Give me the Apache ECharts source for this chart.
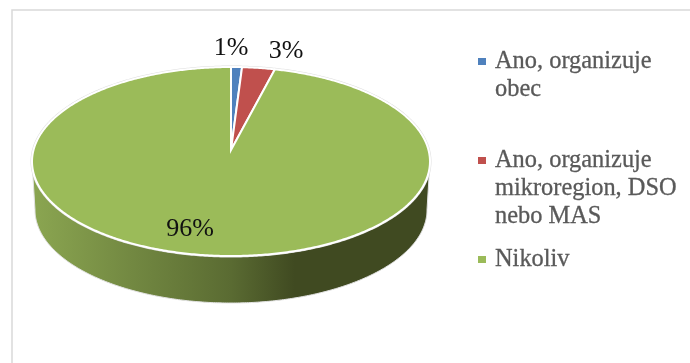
<!DOCTYPE html>
<html><head><meta charset="utf-8">
<style>html,body{margin:0;padding:0;background:#fff}#c{width:690px;height:363px}</style>
<script src="https://cdn.jsdelivr.net/npm/echarts@6/dist/echarts.min.js"></script>
</head><body><div id="c"></div>
<script>
const categories = ['Ano, organizuje obec', 'Ano, organizuje mikroregion, DSO nebo MAS', 'Nikoliv'];
const legendLines = ['Ano, organizuje\nobec', 'Ano, organizuje\nmikroregion, DSO\nnebo MAS', 'Nikoliv'];
const values = [1, 3, 96];
const valueLabels = ['1%', '3%', '96%'];
const colors = ['#4f81bd', '#c0504d', '#9bbb59'];

const total = values.reduce((a, b) => a + b, 0);
const CX = 231, CY = 150, A = 197.5, B = 93.1, K = 0.1218;
const WALL_Y = 198.6, WALL_SCALE = 0.985;
const SILHOUETTE = Math.acos(-K);
const LINE = 28, FONT = '"Liberation Serif", serif';
const labelAt = [[231, 48], [286, 51], [190, 229]];
const legendTop = [48, 147, 246];

function rim(t, scale, y0) {
  const d = 1 + K * Math.cos(t);
  return [CX + scale * A * Math.sin(t) / d, y0 - scale * B * Math.cos(t) / d];
}
function arc(t0, t1, scale, y0) {
  const n = Math.max(2, Math.ceil((t1 - t0) / 0.01)), pts = [];
  for (let i = 0; i <= n; i++) pts.push(rim(t0 + (t1 - t0) * i / n, scale, y0));
  return pts;
}
function renderSlice(idx) {
  return function (params, api) {
    const before = values.slice(0, idx).reduce((a, b) => a + b, 0);
    const t0 = before / total * 2 * Math.PI;
    const t1 = t0 + api.value(0) / total * 2 * Math.PI;
    const children = [];
    const w0 = Math.max(t0, SILHOUETTE), w1 = Math.min(t1, 2 * Math.PI - SILHOUETTE);
    if (w1 > w0) {
      const wall = arc(w0, w1, 1, CY).concat(arc(w0, w1, WALL_SCALE, WALL_Y).reverse());
      children.push({
        type: 'polygon', shape: { points: wall },
        style: {
          fill: new echarts.graphic.LinearGradient(0, 0, 1, 0, [
            { offset: 0, color: '#8ba651' },
            { offset: 0.5, color: '#5a6b32' },
            { offset: 0.66, color: '#404a21' },
            { offset: 1, color: '#404a21' }
          ]),
          stroke: '#e2e2e2', lineWidth: 1
        }
      });
    }
    const edge = arc(t0, t1, 1, CY);
    children.push({
      type: 'polyline', shape: { points: edge },
      style: { fill: null, stroke: '#dedede', lineWidth: 3 }
    });
    children.push({
      type: 'polygon', shape: { points: [[CX, CY]].concat(edge) },
      style: { fill: colors[idx], stroke: '#ffffff', lineWidth: 2, lineJoin: 'miter' }
    });
    children.push({
      type: 'text', z2: 10,
      style: {
        x: labelAt[idx][0], y: labelAt[idx][1], text: valueLabels[idx],
        fill: '#111111', font: '26px ' + FONT, align: 'center', verticalAlign: 'middle'
      }
    });
    return { type: 'group', children };
  };
}
function legendIcon(lines) {
  const h = lines * LINE;
  return `path://M0 0L12 0ZM0 ${h}L12 ${h}ZM0 10H8V17H0Z`;
}
const chart = echarts.init(document.getElementById('c'), null, { renderer: 'canvas' });
chart.setOption({
  animation: false,
  backgroundColor: '#ffffff',
  graphic: [{
    type: 'rect', z: -10, silent: true,
    shape: { x: 12, y: 10, width: 900, height: 600 },
    style: { fill: null, stroke: '#d9d9d9', lineWidth: 1.5 }
  }],
  legend: categories.map((name, i) => {
    const n = legendLines[i].split('\n').length;
    return {
      data: [name], left: 478, top: legendTop[i], padding: 0, orient: 'vertical',
      selectedMode: false, itemWidth: 12, itemHeight: n * LINE, icon: legendIcon(n),
      formatter: () => legendLines[i],
      textStyle: {
        fontFamily: FONT, fontSize: 24.4, lineHeight: LINE, color: '#595959',
        textBorderColor: '#595959', textBorderWidth: 0.3
      }
    };
  }),
  series: categories.map((name, i) => ({
    type: 'custom', name, coordinateSystem: 'none', silent: true,
    itemStyle: { color: colors[i] },
    data: [[values[i]]],
    renderItem: renderSlice(i)
  }))
});
</script></body></html>
